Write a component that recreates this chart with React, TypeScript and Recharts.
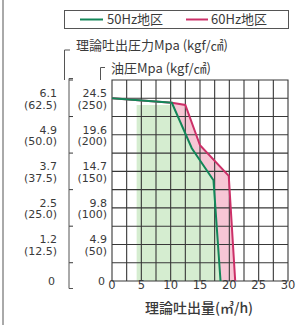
import React from 'react';
import { ComposedChart, Line, Area, XAxis, YAxis } from 'recharts';

const X_TICKS = [0, 2.5, 5, 7.5, 10, 12.5, 15, 17.5, 20, 22.5, 25, 27.5, 30];
const X_LABELS = ['0', '', '5', '', '10', '', '15', '', '20', '', '25', '', '30'];
const Y_TICKS = [0, 2.45, 4.9, 7.35, 9.8, 12.25, 14.7, 17.15, 19.6, 22.05, 24.5, 26.95];
const OIL_LABELS = ['0', '', '4.9', '', '9.8', '', '14.7', '', '19.6', '', '24.5', ''];
const OIL_KGF = ['', '', '(50)', '', '(100)', '', '(150)', '', '(200)', '', '(250)', ''];
const PUMP_LABELS = ['0', '', '1.2', '', '2.5', '', '3.7', '', '4.9', '', '6.1', ''];
const PUMP_KGF = ['', '', '(12.5)', '', '(25.0)', '', '(37.5)', '', '(50.0)', '', '(62.5)', ''];

const HZ50 = [
  { x: 0, y: 24.5 },
  { x: 10.2, y: 23.9 },
  { x: 13.6, y: 17.8 },
  { x: 17.3, y: 13.5 },
  { x: 18.5, y: 0 },
];
const HZ60 = [
  { x: 0, y: 24.5 },
  { x: 10.2, y: 23.9 },
  { x: 12.5, y: 23.6 },
  { x: 15.0, y: 18.2 },
  { x: 19.9, y: 14.1 },
  { x: 21.0, y: 0 },
];
const HZ50_FILL = [
  { x: 4.2, y: 23.6 },
  { x: 10.4, y: 23.6 },
  { x: 13.6, y: 17.8 },
  { x: 17.3, y: 13.5 },
  { x: 18.5, y: 0 },
];
const HZ60_FILL = [
  { x: 10.2, y: 23.9 },
  { x: 12.5, y: 23.6 },
  { x: 15.0, y: 18.2 },
  { x: 19.9, y: 14.1 },
  { x: 21.0, y: 0 },
];

const X_MIN = X_TICKS[0];
const X_MAX = X_TICKS[X_TICKS.length - 1];
const Y_MIN = Y_TICKS[0];
const Y_MAX = Y_TICKS[Y_TICKS.length - 1];

// one serpentine path through every grid line (connectors run along the border lines)
const GRID_PATH: { x: number; y: number }[] = [];
X_TICKS.forEach((v, i) => {
  const a = i % 2 === 0 ? Y_MIN : Y_MAX;
  const b = i % 2 === 0 ? Y_MAX : Y_MIN;
  GRID_PATH.push({ x: v, y: a }, { x: v, y: b });
});
[...Y_TICKS].reverse().forEach((v, j) => {
  const a = j % 2 === 0 ? X_MAX : X_MIN;
  const b = j % 2 === 0 ? X_MIN : X_MAX;
  GRID_PATH.push({ x: a, y: v }, { x: b, y: v });
});

const GREEN = '#138659';
const RED = '#cc3068';
const TEXT = '#3a3a3a';
const GRID = '#383838';
const NUM_FONT = 'DejaVu Sans, sans-serif';
const CJK_FONT = '"Noto Sans CJK JP", "Noto Sans CJK SC", sans-serif';

const YTick = (props: any) => {
  const { x, y, payload } = props;
  const i = typeof props.index === 'number' ? props.index : Y_TICKS.indexOf(payload.value);
  const two = OIL_KGF[i] !== '';
  const style = { fontFamily: NUM_FONT, fontSize: 11, fill: TEXT };
  return (
    <g>
      {OIL_LABELS[i] !== '' &&
        (two ? (
          <text x={x - 5} y={y} textAnchor="end" style={style}>
            <tspan x={x - 5} dy={-1}>{OIL_LABELS[i]}</tspan>
            <tspan x={x - 5} dy={11.5}>{OIL_KGF[i]}</tspan>
          </text>
        ) : (
          <text x={x - 7} y={y + 4} textAnchor="end" style={style}>
            {OIL_LABELS[i]}
          </text>
        ))}
      {PUMP_LABELS[i] !== '' &&
        (two ? (
          <text x={x - 55} y={y} textAnchor="end" style={style}>
            <tspan x={x - 55} dy={-1}>{PUMP_LABELS[i]}</tspan>
            <tspan x={x - 55} dy={11.5}>{PUMP_KGF[i]}</tspan>
          </text>
        ) : (
          <text x={x - 57} y={y + 4} textAnchor="end" style={style}>
            {PUMP_LABELS[i]}
          </text>
        ))}
      {i % 2 === 1 && <line x1={x - 43} x2={x - 39} y1={y} y2={y} stroke={GRID} strokeWidth={1} />}
    </g>
  );
};

const XTick = (props: any) => {
  const { x, y, payload } = props;
  const i = typeof props.index === 'number' ? props.index : X_TICKS.indexOf(payload.value);
  if (!X_LABELS[i]) return <g />;
  return (
    <text x={x} y={y + 8} textAnchor="middle" style={{ fontFamily: NUM_FONT, fontSize: 11.5, fill: TEXT }}>
      {X_LABELS[i]}
    </text>
  );
};

export default function App() {
  return (
    <div style={{ position: 'fixed', left: 0, top: 0, width: 302, height: 329, background: '#fff' }}>
      <ComposedChart width={302} height={329} margin={{ top: 80, right: 14, bottom: 18, left: 0 }}>
        <XAxis
          type="number"
          dataKey="x"
          domain={[X_MIN, X_MAX]}
          ticks={X_TICKS}
          interval={0}
          axisLine={false}
          tickLine={false}
          tickSize={0}
          tickMargin={0}
          height={30}
          tick={<XTick />}
        />
        <YAxis
          type="number"
          dataKey="y"
          domain={[Y_MIN, Y_MAX]}
          ticks={Y_TICKS}
          interval={0}
          axisLine={false}
          tickLine={false}
          tickSize={0}
          tickMargin={0}
          width={112}
          tick={<YTick />}
        />
        <Area data={HZ60_FILL} dataKey="y" type="linear" stroke="none" fill="#f7c6d5" fillOpacity={1} isAnimationActive={false} />
        <Area data={HZ50_FILL} dataKey="y" type="linear" stroke="none" fill="#d5edd0" fillOpacity={1} isAnimationActive={false} />
        <Line data={GRID_PATH} dataKey="y" type="linear" stroke={GRID} strokeWidth={1.1} dot={false} isAnimationActive={false} />
        <Line data={HZ60} dataKey="y" type="linear" stroke={RED} strokeWidth={2} dot={false} isAnimationActive={false} />
        <Line data={HZ50} dataKey="y" type="linear" stroke={GREEN} strokeWidth={2} dot={false} isAnimationActive={false} />
      </ComposedChart>
      <svg width={302} height={329} style={{ position: 'absolute', left: 0, top: 0, pointerEvents: 'none' }}>
        <line x1={3} x2={3} y1={0} y2={325} stroke="#555" strokeWidth={1} />
        <rect x={64.5} y={10.5} width={224} height={18} fill="none" stroke="#555" strokeWidth={1} />
        <line x1={80} x2={103} y1={19.5} y2={19.5} stroke={GREEN} strokeWidth={2} />
        <text x={107} y={24} style={{ fontFamily: CJK_FONT, fontSize: 13, fill: TEXT }}>50Hz地区</text>
        <line x1={186} x2={208} y1={19.5} y2={19.5} stroke={RED} strokeWidth={2} />
        <text x={211} y={24} style={{ fontFamily: CJK_FONT, fontSize: 13, fill: TEXT }}>60Hz地区</text>
        <path d="M 70 50 L 64.5 50 L 64.5 80" fill="none" stroke="#555" strokeWidth={1} />
        <text x={76} y={50} style={{ fontFamily: CJK_FONT, fontSize: 13, fill: TEXT }}>理論吐出圧力Mpa (kgf/㎠)</text>
        <path d="M 105 67.5 L 100.5 67.5 L 100.5 80" fill="none" stroke="#555" strokeWidth={1} />
        <text x={111} y={73} style={{ fontFamily: CJK_FONT, fontSize: 13, fill: TEXT }}>油圧Mpa (kgf/㎠)</text>
        <path d="M 73 78.5 L 69 78.5 L 69 288.5 L 73 288.5" fill="none" stroke="#555" strokeWidth={1} />
        <text x={199} y={313} textAnchor="middle" style={{ fontFamily: CJK_FONT, fontSize: 14, fontWeight: 500, fill: TEXT }}>理論吐出量(㎥/h)</text>
      </svg>
    </div>
  );
}
